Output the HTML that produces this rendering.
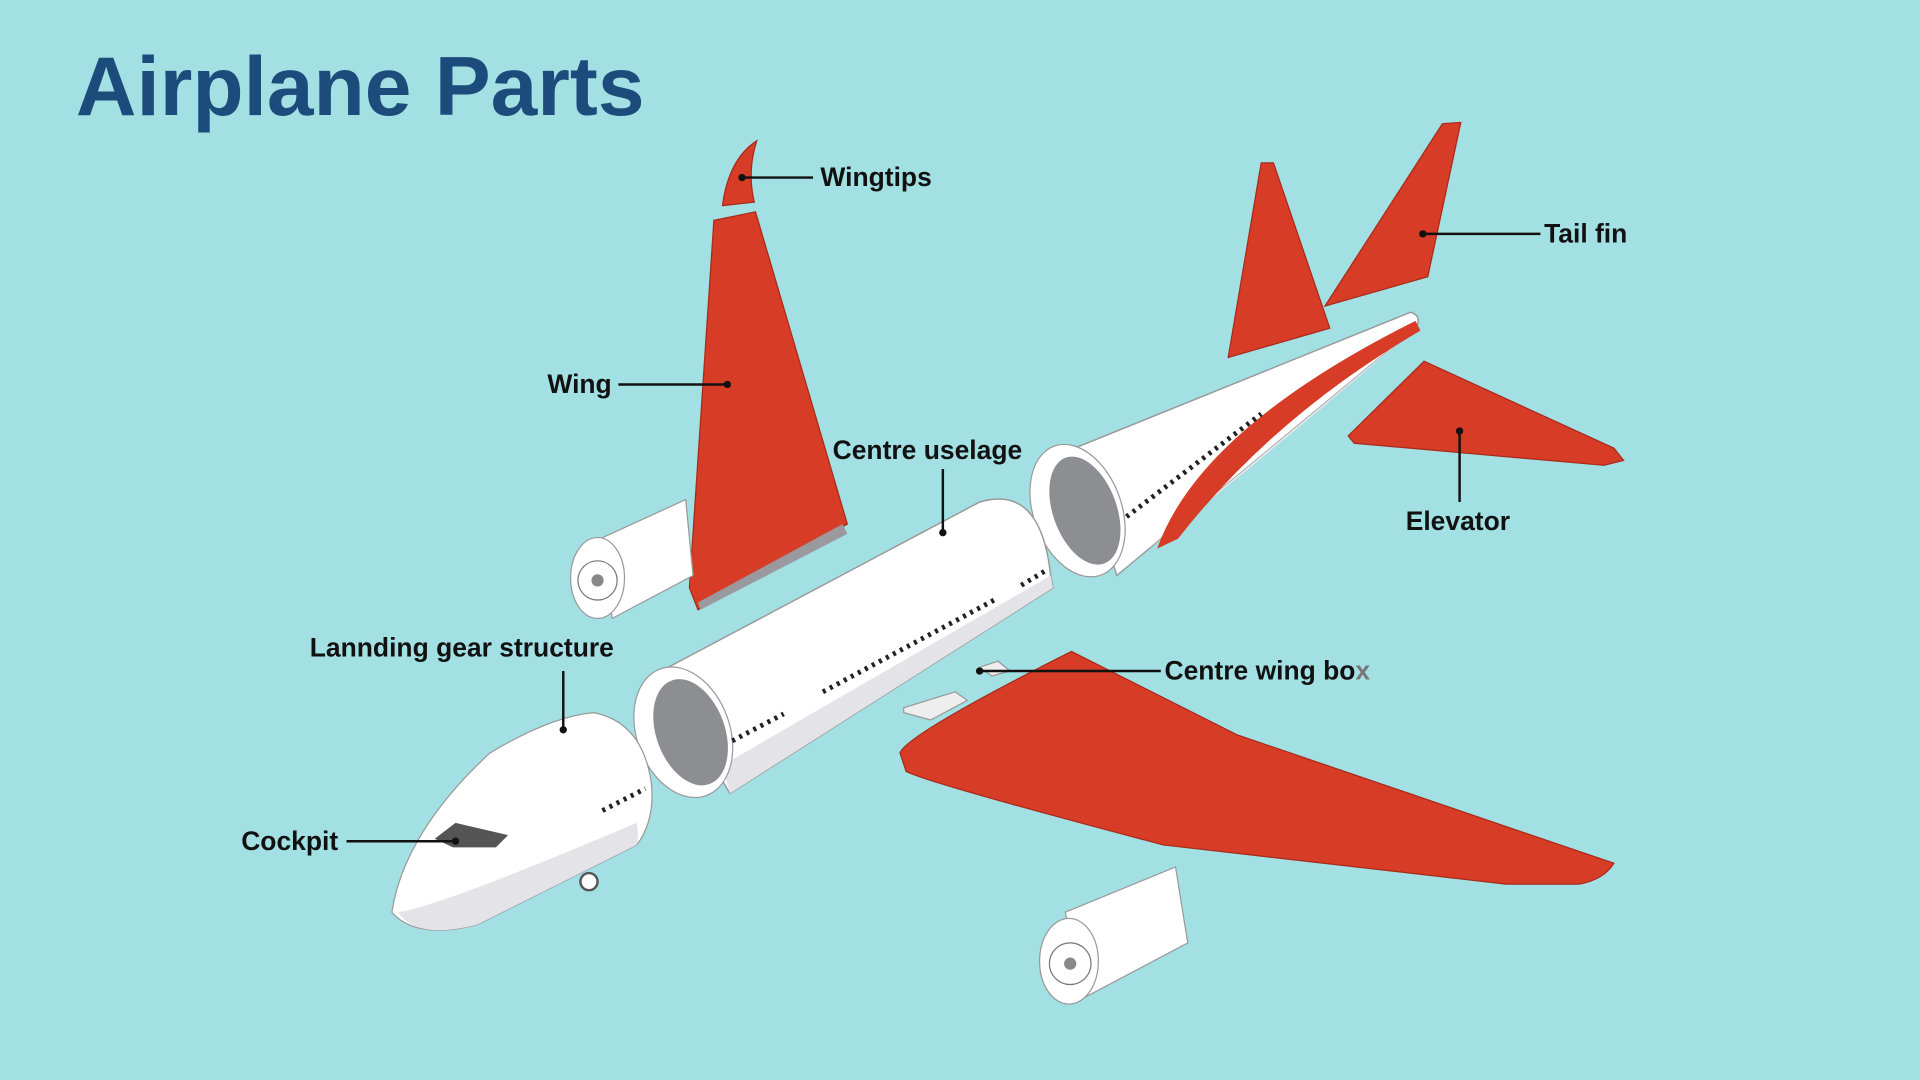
<!DOCTYPE html>
<html><head><meta charset="utf-8"><style>
html,body{margin:0;padding:0;background:#a3e0e3;}
svg{display:block}
text{font-family:"Liberation Sans",sans-serif;font-weight:bold;fill:#111;}
</style></head><body>
<svg width="1920" height="1080" viewBox="0 0 1568 882" xmlns="http://www.w3.org/2000/svg">
<rect width="1568" height="882" fill="#a3e0e3"/>
<text x="62" y="94" font-size="68.5" style="fill:#1c4c7c">Airplane Parts</text>

<!-- tail fins -->
<polygon points="1003,292 1030,133 1040,133 1086,268" fill="#d63c26" stroke="#a82a1a" stroke-width="1"/>
<polygon points="1082,250 1178,101 1193,100 1166,226" fill="#d63c26" stroke="#a82a1a" stroke-width="1"/>
<!-- elevator -->
<polygon points="1101,356 1163,295 1318,366 1326,376 1310,380 1106,362" fill="#d63c26" stroke="#a82a1a" stroke-width="1"/>

<!-- rear fuselage -->
<path d="M880,365 L1152,255 Q1162,258 1156,268 L912,470 Z" fill="#fff" stroke="#999" stroke-width="1.2"/>
<path d="M930,455 Q1050,360 1156,268 L912,470 Z" fill="#e4e4e8"/>
<path d="M945,448 Q980,350 1156,262 L1160,270 Q1040,340 962,440 Z" fill="#d63c26"/>
<ellipse cx="880" cy="417" rx="36" ry="56" transform="rotate(-20 880 417)" fill="#fff" stroke="#999"/>
<ellipse cx="886" cy="417" rx="26" ry="46" transform="rotate(-20 886 417)" fill="#8d8e92"/>
<line x1="920" y1="422" x2="1030" y2="338" stroke="#222" stroke-width="4" stroke-dasharray="2.5,4"/>

<!-- wingtip and upper wing -->
<path d="M590,168 Q595,130 618,115 Q610,140 616,165 Z" fill="#d63c26" stroke="#a82a1a"/>
<polygon points="583,180 617,173 692,428 570,498 563,480" fill="#d63c26" stroke="#a82a1a"/>
<polygon points="570,492 688,428 692,436 572,498" fill="#9a9a9e"/>

<!-- left engine -->
<path d="M490,440 L560,408 L566,470 L500,505 Z" fill="#fff" stroke="#999"/>
<ellipse cx="488" cy="472" rx="22" ry="33" fill="#fff" stroke="#999"/>
<circle cx="488" cy="474" r="16" fill="#fff" stroke="#777"/>
<circle cx="488" cy="474" r="5" fill="#888"/>

<!-- centre fuselage -->
<path d="M540,548 L800,410 Q850,395 858,470 L860,480 L596,648 Z" fill="#fff" stroke="#999" stroke-width="1.2"/>
<path d="M590,625 L858,470 L860,480 L596,648 Z" fill="#e4e4e8"/>
<ellipse cx="558" cy="598" rx="38" ry="55" transform="rotate(-20 558 598)" fill="#fff" stroke="#999"/>
<ellipse cx="564" cy="598" rx="28" ry="45" transform="rotate(-20 564 598)" fill="#8d8e92"/>
<line x1="598" y1="605" x2="640" y2="583" stroke="#222" stroke-width="4" stroke-dasharray="2.5,4"/>
<line x1="672" y1="565" x2="812" y2="490" stroke="#222" stroke-width="4" stroke-dasharray="2.5,4"/>
<line x1="834" y1="478" x2="854" y2="466" stroke="#222" stroke-width="4" stroke-dasharray="2.5,4"/>
<!-- wing box -->
<polygon points="738,578 780,565 790,572 760,588 738,582" fill="#eee" stroke="#999"/>
<polygon points="800,545 815,540 825,548 810,552" fill="#eee" stroke="#999"/>

<!-- lower wing -->
<path d="M735,615 Q740,600 875,532 L1010,600 L1318,705 Q1310,718 1290,722 L1230,722 L950,690 Q760,640 740,630 Z" fill="#d63c26" stroke="#a82a1a"/>

<!-- cockpit -->
<path d="M320,745 Q330,680 400,615 Q450,585 485,582 Q525,590 532,640 Q535,670 520,690 L390,755 Q340,768 320,745 Z" fill="#fff" stroke="#999"/>
<path d="M325,745 Q360,740 520,672 Q522,682 520,690 L390,755 Q340,768 325,745 Z" fill="#e4e4e8"/>
<path d="M355,685 L372,672 L415,682 L405,692 L370,692 Z" fill="#555"/>
<line x1="492" y1="662" x2="527" y2="644" stroke="#222" stroke-width="4" stroke-dasharray="2.5,4"/>
<circle cx="481" cy="720" r="7" fill="#fff" stroke="#555" stroke-width="2"/>

<!-- bottom engine -->
<path d="M870,745 L960,708 L970,770 L885,815 Z" fill="#fff" stroke="#999"/>
<ellipse cx="873" cy="785" rx="24" ry="35" fill="#fff" stroke="#999"/>
<circle cx="874" cy="787" r="17" fill="#fff" stroke="#777"/>
<circle cx="874" cy="787" r="5" fill="#888"/>

<!-- labels -->
<g stroke="#111" stroke-width="2" fill="none">
<line x1="606" y1="145" x2="664" y2="145"/>
<line x1="1162" y1="191" x2="1258" y2="191"/>
<line x1="505" y1="314" x2="594" y2="314"/>
<line x1="770" y1="383" x2="770" y2="435"/>
<line x1="1192" y1="352" x2="1192" y2="410"/>
<line x1="800" y1="548" x2="948" y2="548"/>
<line x1="460" y1="548" x2="460" y2="596"/>
<line x1="283" y1="687" x2="372" y2="687"/>
</g>
<g fill="#111">
<circle cx="606" cy="145" r="3"/><circle cx="1162" cy="191" r="3"/><circle cx="594" cy="314" r="3"/>
<circle cx="770" cy="435" r="3"/><circle cx="1192" cy="352" r="3"/><circle cx="800" cy="548" r="3"/>
<circle cx="460" cy="596" r="3"/><circle cx="372" cy="687" r="3"/>
</g>
<g font-size="21.6">
<text x="670" y="152">Wingtips</text>
<text x="1261" y="198">Tail fin</text>
<text x="447" y="321">Wing</text>
<text x="680" y="375">Centre uselage</text>
<text x="1148" y="433">Elevator</text>
<text x="951" y="555">Centre wing bo<tspan style="fill:#777">x</tspan></text>
<text x="253" y="536">Lannding gear structure</text>
<text x="197" y="694">Cockpit</text>
</g>
</svg>
</body></html>
